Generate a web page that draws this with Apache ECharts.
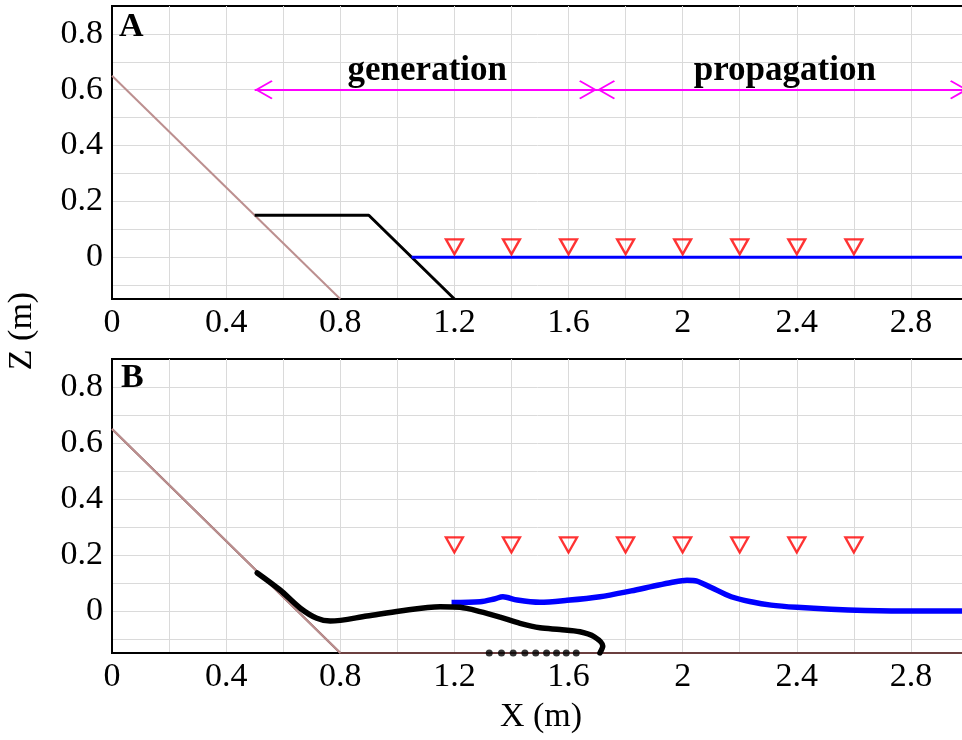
<!DOCTYPE html>
<html>
<head>
<meta charset="utf-8">
<script src="https://cdn.jsdelivr.net/npm/echarts@6/dist/echarts.min.js"></script>
<style>html,body{margin:0;padding:0;background:#fff}#c{width:962px;height:740px}</style>
</head>
<body>
<div id="c"></div>
<script>
// ---- data ----
const xTickLabels = [0, 0.4, 0.8, 1.2, 1.6, 2, 2.4, 2.8];
const yGridValues = [-0.1, 0, 0.1, 0.2, 0.3, 0.4, 0.5, 0.6, 0.7, 0.8];
const yTickLabels = [0, 0.2, 0.4, 0.6, 0.8];
const slopeA = [[0, 0.65], [0.8, -0.15]];
const bedB = [[0, 0.65], [0.8, -0.15], [3, -0.15]];
const slideA = [[0.5, 0.15], [0.9, 0.15], [1.2, -0.15]];
const waterA = [[1.05, 0], [3.0, 0]];
const gaugeX = [1.2, 1.4, 1.6, 1.8, 2.0, 2.2, 2.4, 2.6];
const gaugeZA = 0.037;
const gaugeZB = 0.236;
const slideB = [[0.509,0.136],[0.589,0.075],[0.66,0.01],[0.718,-0.026],[0.765,-0.036],[0.893,-0.018],[1.01,0],[1.15,0.015],[1.22,0.013],[1.29,-0.002],[1.36,-0.022],[1.43,-0.044],[1.50,-0.06],[1.57,-0.066],[1.64,-0.074],[1.69,-0.092],[1.72,-0.125],[1.71,-0.15]];
const waterB = [[1.19,0.03],[1.29,0.033],[1.34,0.043],[1.37,0.051],[1.42,0.039],[1.50,0.031],[1.595,0.038],[1.71,0.051],[1.82,0.072],[1.89,0.087],[1.96,0.102],[2.015,0.11],[2.05,0.107],[2.10,0.084],[2.17,0.051],[2.24,0.033],[2.31,0.021],[2.40,0.013],[2.52,0.006],[2.64,0.002],[2.81,0],[3.0,0]];
const dotsX = [1.322, 1.365, 1.406, 1.447, 1.485, 1.523, 1.558, 1.592, 1.627];
const dotsZ = -0.15;
const arrowZ = 0.6;
const arrowSegments = [[0.5, 1.7], [1.7, 3.0]];
const phaseNames = ['generation', 'propagation'];
const phaseX = [1.105, 2.358];
const phaseZ = 0.668;
const panelNames = ['A', 'B'];

// ---- chart ----
const FONT = 'Liberation Serif';
const chart = echarts.init(document.getElementById('c'));
// open chevron, tip at the bounding-box centre (tiny degenerate subpath balances the box)
const chevron = 'path://M0,0 L10,15 L8.6,16.2 L0,3.2 L-8.6,16.2 L-10,15 Z M-0.01,-16.2 L0.01,-16.2 L0,-16.19 Z';

function xAxis(i) {
  return {
    type: 'value', gridIndex: i, min: 0, max: 3, interval: 0.2,
    axisLine: { show: true, onZero: false, lineStyle: { color: '#000', width: 2 } },
    axisTick: { show: false },
    splitLine: { show: true, lineStyle: { color: '#dadada', width: 1 } },
    axisLabel: {
      fontFamily: FONT, fontSize: 34, color: '#000', margin: 7,
      formatter: v => {
        const r = Math.round(v * 10) / 10;
        return xTickLabels.indexOf(r) >= 0 ? String(r) : '';
      }
    }
  };
}
function yAxis(i) {
  return {
    type: 'value', gridIndex: i, min: -0.15, max: 0.9,
    axisLine: { show: true, onZero: false, lineStyle: { color: '#000', width: 2 } },
    axisTick: { show: false, customValues: yGridValues },
    splitLine: { show: true, lineStyle: { color: '#dadada', width: 1 } },
    axisLabel: {
      fontFamily: FONT, fontSize: 34, color: '#000', margin: 9,
      customValues: yTickLabels,
      formatter: v => String(Math.round(v * 10) / 10)
    }
  };
}

const series = [];
// Panel A
series.push({ type: 'line', xAxisIndex: 0, yAxisIndex: 0, data: slopeA, symbol: 'none', lineStyle: { color: '#bc8f8f', width: 2 }, silent: true, z: 3 });
series.push({ type: 'line', xAxisIndex: 0, yAxisIndex: 0, data: slideA, symbol: 'none', lineStyle: { color: '#000', width: 3 }, z: 4 });
series.push({ type: 'line', xAxisIndex: 0, yAxisIndex: 0, data: waterA, symbol: 'none', lineStyle: { color: '#0000ff', width: 3 }, z: 4 });
series.push({ type: 'scatter', xAxisIndex: 0, yAxisIndex: 0, data: gaugeX.map(x => [x, gaugeZA]), symbol: 'triangle', symbolRotate: 180, symbolSize: [17, 15], itemStyle: { color: 'rgba(0,0,0,0)', borderColor: '#ff0000', borderWidth: 2.3 }, z: 5 });
// arrows
series.push({
  type: 'line', xAxisIndex: 0, yAxisIndex: 0, data: [], symbol: 'none',
  markLine: {
    silent: true, animation: false,
    symbol: [chevron, chevron], symbolSize: [19, 36],
    lineStyle: { color: '#ff00ff', width: 2, type: 'solid' },
    label: { show: false },
    data: arrowSegments.map(s => [{ coord: [s[0], arrowZ] }, { coord: [s[1], arrowZ] }])
  }
});
// Panel B
series.push({ type: 'line', xAxisIndex: 1, yAxisIndex: 1, data: bedB, symbol: 'none', lineStyle: { color: '#6b3f3f', width: 2 }, silent: true, z: 3 });
series.push({ type: 'line', xAxisIndex: 1, yAxisIndex: 1, data: bedB.slice(0, 2), symbol: 'none', lineStyle: { color: '#bc8f8f', width: 2 }, silent: true, z: 3 });
series.push({ type: 'line', xAxisIndex: 1, yAxisIndex: 1, data: slideB, symbol: 'none', smooth: 0.3, lineStyle: { color: '#000', width: 5.5, cap: 'round', join: 'round' }, z: 5 });
series.push({ type: 'line', xAxisIndex: 1, yAxisIndex: 1, data: waterB, symbol: 'none', smooth: 0.3, lineStyle: { color: '#0000ff', width: 5.5, join: 'round' }, z: 4 });
series.push({ type: 'scatter', xAxisIndex: 1, yAxisIndex: 1, data: dotsX.map(x => [x, dotsZ]), symbol: 'circle', symbolSize: 7, clip: false, itemStyle: { color: '#000000' }, z: 6 });
series.push({ type: 'scatter', xAxisIndex: 1, yAxisIndex: 1, data: gaugeX.map(x => [x, gaugeZB]), symbol: 'triangle', symbolRotate: 180, symbolSize: [17, 15], itemStyle: { color: 'rgba(0,0,0,0)', borderColor: '#ff0000', borderWidth: 2.3 }, z: 5 });

const gridBase = { left: 112, right: -6, show: true, borderColor: '#000', borderWidth: 2, backgroundColor: 'transparent', containLabel: false, outerBoundsMode: 'none' };
chart.setOption({
  animation: false,
  backgroundColor: '#fff',
  grid: [
    Object.assign({ top: 6, bottom: 441 }, gridBase),
    Object.assign({ top: 359, bottom: 87 }, gridBase)
  ],
  xAxis: [xAxis(0), xAxis(1)],
  yAxis: [yAxis(0), yAxis(1)],
  series: series
});

// texts: panel letters, axis titles, phase labels (phase labels placed through the axes)
const texts = [
  { type: 'text', x: 119, y: 27, style: { text: panelNames[0], font: 'bold 34px "Liberation Serif"', fill: '#000', textVerticalAlign: 'middle' }, z: 10 },
  { type: 'text', x: 121, y: 378, style: { text: panelNames[1], font: 'bold 34px "Liberation Serif"', fill: '#000', textVerticalAlign: 'middle' }, z: 10 },
  { type: 'text', x: 22, y: 331, rotation: Math.PI / 2, style: { text: 'Z (m)', font: '34px "Liberation Serif"', fill: '#000', textAlign: 'center', textVerticalAlign: 'middle' } },
  { type: 'text', x: 541, y: 717, style: { text: 'X (m)', font: '34px "Liberation Serif"', fill: '#000', textAlign: 'center', textVerticalAlign: 'middle' } }
];
phaseNames.forEach((n, i) => {
  const p = chart.convertToPixel({ xAxisIndex: 0, yAxisIndex: 0 }, [phaseX[i], phaseZ]);
  texts.push({ type: 'text', x: p[0], y: p[1], style: { text: n, font: 'bold 35px "Liberation Serif"', fill: '#000', textAlign: 'center', textVerticalAlign: 'middle' }, z: 10 });
});
chart.setOption({ graphic: texts });
</script>
</body>
</html>
